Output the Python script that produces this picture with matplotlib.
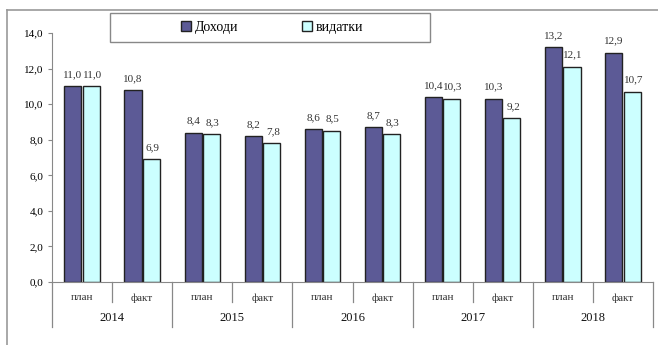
import numpy as np
import matplotlib
matplotlib.use('Agg')
import matplotlib.pyplot as plt
import matplotlib.patches as mpatches
from matplotlib.lines import Line2D

plt.rcParams['font.family'] = ['Liberation Serif', 'DejaVu Serif']

# data
years = ['2014', '2015', '2016', '2017', '2018']
kinds = ['план', 'факт']
dohody = [11.0, 10.8, 8.4, 8.2, 8.6, 8.7, 10.4, 10.3, 13.2, 12.9]
vydatky = [11.0, 6.9, 8.3, 7.8, 8.5, 8.3, 10.3, 9.2, 12.1, 10.7]
series_names = ['Доходи', 'видатки']
yticks = [0, 2, 4, 6, 8, 10, 12, 14]

dark = '#5c5a96'
light = '#ccffff'

W, H = 658, 345
fig = plt.figure(figsize=(W / 100, H / 100), dpi=100)

# outer frame of the chart (left and top edges visible)
fig.add_artist(Line2D([7 / W, 7 / W], [0, 1 - 10 / H], color='#999999', lw=1.2))
fig.add_artist(Line2D([7 / W, 1], [1 - 10 / H, 1 - 10 / H], color='#999999', lw=1.2))

ax = fig.add_axes([52 / W, 1 - 282 / H, (653 - 52) / W, (282 - 33) / H])
n = len(dohody)
x = np.arange(n)
bw = 0.285
gap = 0.02
ax.bar(x - bw / 2 - gap / 2, dohody, bw, color=dark, edgecolor='#222222', lw=1)
ax.bar(x + bw / 2 + gap / 2, vydatky, bw, color=light, edgecolor='#222222', lw=1)

for i in range(n):
    ax.text(x[i] - bw / 2 - gap / 2, dohody[i] + 0.4, f'{dohody[i]:.1f}'.replace('.', ','),
            ha='center', va='bottom', fontsize=8, color='#333333')
    ax.text(x[i] + bw / 2 + gap / 2 + 0.02, vydatky[i] + 0.4, f'{vydatky[i]:.1f}'.replace('.', ','),
            ha='center', va='bottom', fontsize=8, color='#333333')

ax.set_xlim(-0.5, n - 0.5)
ax.set_ylim(0, 14)
ax.set_yticks(yticks)
ax.set_yticklabels([f'{v:.1f}'.replace('.', ',') for v in yticks], fontsize=8)
ax.tick_params(axis='y', direction='out', length=3, color='#888888', pad=3)
ax.set_xticks([])
for s in ['top', 'right']:
    ax.spines[s].set_visible(False)
ax.spines['left'].set_color('#888888')
ax.spines['bottom'].set_color('#888888')

# category labels and separators
px = 1 / (282 - 33) * 14  # data units per pixel (vertical)
for i in range(n):
    ax.text(x[i], -16 * px, kinds[i % 2], ha='center', va='center', fontsize=8,
            color='#333333', clip_on=False)
for j, yr in enumerate(years):
    ax.text(2 * j + 0.5, -36 * px, yr, ha='center', va='center', fontsize=9,
            color='#111111', clip_on=False)
for k in range(n + 1):
    xs = k - 0.5
    low = -45 * px if k % 2 == 0 else -20 * px
    ax.add_line(Line2D([xs, xs], [0, low], color='#888888', lw=0.9, clip_on=False))

# legend box
fig.add_artist(mpatches.Rectangle((110 / W, 1 - 42 / H), 320 / W, 29 / H,
                                  transform=fig.transFigure, facecolor='white',
                                  edgecolor='#888888', lw=1))
leg = fig.legend(handles=[mpatches.Patch(facecolor=dark, edgecolor='#222222'),
                          mpatches.Patch(facecolor=light, edgecolor='#222222')],
                 labels=series_names, ncol=2, loc='center',
                 bbox_to_anchor=(272 / W, 1 - 27.5 / H),
                 fontsize=10, frameon=False, handlelength=0.75, handleheight=0.75,
                 handletextpad=0.25, columnspacing=4.6, borderaxespad=0, borderpad=0)

fig.savefig('out.png', dpi=100)
